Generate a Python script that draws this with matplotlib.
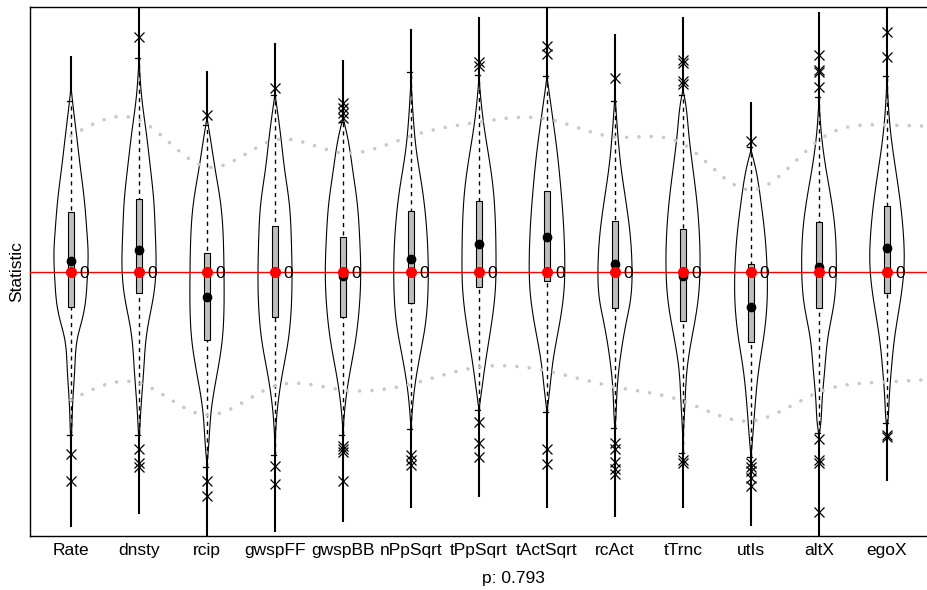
"""
Violin GOF plot: simulated auxiliary statistics vs. observed (red), p: 0.793.
"""
import numpy as np
import matplotlib
matplotlib.use("Agg")
import matplotlib.pyplot as plt
from matplotlib.patches import Rectangle, Polygon

plt.rcParams["font.family"] = ["Liberation Sans", "DejaVu Sans"]

# ─────────────────────────────────────────────────────────
#  Data (arbitrary statistic units)
# ─────────────────────────────────────────────────────────
stat_names = ["Rate", "dnsty", "rcip", "gwspFF", "gwspBB", "nPpSqrt", "tPpSqrt",
              "tActSqrt", "rcAct", "tTrnc", "utIs", "altX", "egoX"]
observed = [0.0] * 13
observed_labels = ["0"] * 13

sim_max   = [2.16, 2.66, 2.01, 2.29, 2.12, 2.43, 2.55, 2.66, 2.38, 2.55, 1.70, 2.60, 2.66]
sim_hi    = [1.71, 2.14, 1.47, 1.77, 1.50, 2.00, 1.97, 1.96, 1.71, 1.77, 1.25, 1.75, 1.96]
sim_q3    = [0.60, 0.73, 0.19, 0.46, 0.35, 0.61, 0.71, 0.81, 0.51, 0.43, 0.08, 0.50, 0.66]
sim_mean  = [0.11, 0.22, -0.25, 0.00, -0.04, 0.13, 0.28, 0.35, 0.08, -0.04, -0.35, 0.05, 0.24]
sim_q1    = [-0.35, -0.21, -0.68, -0.45, -0.45, -0.31, -0.15, -0.09, -0.36, -0.49, -0.70, -0.36, -0.21]
sim_lo    = [-1.63, -1.63, -1.95, -1.83, -1.63, -1.57, -1.38, -1.40, -1.56, -1.81, -1.85, -1.61, -1.51]
sim_min   = [-2.55, -2.42, -2.66, -2.60, -2.50, -2.36, -2.25, -2.36, -2.45, -2.36, -2.54, -2.66, -2.09]

outliers_hi = [
    [], [2.35], [1.57], [1.84], [1.69, 1.64, 1.59, 1.54], [], [2.10, 2.06],
    [2.26, 2.18], [1.94], [2.12, 2.09, 1.91, 1.88], [1.31], [2.17, 2.02, 2.00, 1.85],
    [2.40, 2.15],
]
outliers_lo = [
    [-1.82, -2.09], [-1.77, -1.91, -1.95], [-2.09, -2.24], [-1.94, -2.12],
    [-1.74, -1.77, -1.80, -2.09], [-1.83, -1.88, -1.93], [-1.50, -1.71, -1.85],
    [-1.77, -1.92], [-1.71, -1.77, -1.90, -1.97, -2.02], [-1.88, -1.91],
    [-1.91, -1.95, -1.99, -2.06, -2.14], [-1.67, -1.88, -1.91, -2.40], [-1.63, -1.65],
]

# violin density profiles: (statistic level, relative density)
violin_levels = [
    [1.85, 1.71, 1.39, 1.05, 0.72, 0.39, 0.22, -0.11, -0.31, -0.48, -0.65, -0.98, -1.31, -1.58, -1.73],
    [2.12, 1.72, 1.39, 1.05, 0.72, 0.39, 0.05, -0.15, -0.31, -0.48, -0.65, -0.98, -1.31, -1.58, -1.73],
    [1.54, 1.36, 1.02, 0.68, 0.33, -0.01, -0.35, -0.70, -1.04, -1.38, -1.73, -1.93],
    [1.78, 1.36, 1.02, 0.68, 0.33, -0.01, -0.35, -0.70, -1.04, -1.38, -1.69, -1.83],
    [1.54, 1.36, 1.02, 0.68, 0.33, -0.01, -0.35, -0.70, -1.04, -1.38, -1.60],
    [1.92, 1.54, 1.19, 0.85, 0.51, 0.16, -0.18, -0.53, -0.87, -1.21, -1.56],
    [1.94, 1.51, 1.16, 0.82, 0.51, 0.16, -0.18, -0.53, -0.87, -1.21, -1.38],
    [1.95, 1.54, 1.19, 0.85, 0.51, 0.16, -0.18, -0.53, -0.87, -1.21, -1.40],
    [1.77, 1.39, 1.05, 0.72, 0.39, 0.05, -0.15, -0.31, -0.48, -0.81, -1.15, -1.48, -1.58],
    [1.82, 1.72, 1.39, 1.05, 0.72, 0.39, 0.05, -0.31, -0.65, -0.98, -1.31, -1.65, -1.78],
    [1.22, 1.05, 0.72, 0.39, 0.05, -0.31, -0.65, -0.98, -1.31, -1.65, -1.85],
    [1.72, 1.39, 1.05, 0.72, 0.39, 0.05, -0.31, -0.65, -0.98, -1.31, -1.55, -1.63],
    [1.92, 1.39, 1.05, 0.72, 0.39, 0.05, -0.31, -0.65, -0.98, -1.31, -1.48, -1.56],
]
violin_density = [
    [0, 1.5, 5.3, 9.3, 13.3, 16, 17, 16, 14.3, 11, 6.7, 3.7, 1.7, 0.7, 0],
    [0, 3, 7.3, 11.3, 14.7, 16.3, 17, 15.7, 13.3, 10, 7.3, 4.7, 2.3, 0.7, 0],
    [0, 3, 8.3, 13.7, 16.3, 17, 17, 15, 9.7, 4.3, 1.7, 0],
    [0, 5.7, 9.7, 14.3, 16.3, 17, 16.3, 13, 7, 2.3, 0.3, 0],
    [0, 4.3, 9.7, 14.3, 16.7, 17.7, 16.3, 12.3, 6.3, 1.7, 0],
    [0, 2.3, 5.7, 11, 15, 17, 17, 14.3, 8.3, 3, 0],
    [0, 4.3, 9.7, 14.3, 16.3, 17, 16.3, 12.3, 7, 2.3, 0],
    [0, 5.7, 10.3, 13.7, 16.3, 17.7, 17, 12.3, 6.3, 2.3, 0],
    [0, 2.7, 6, 10.7, 15, 17, 16.7, 15, 11.7, 6, 2.3, 0.7, 0],
    [0, 2, 5.7, 9.7, 13.7, 16.3, 17, 14.7, 9, 4, 2, 0.3, 0],
    [0, 4.3, 9.7, 13.7, 16, 16, 12.7, 7.7, 4.3, 1.7, 0],
    [0, 2.3, 6.7, 12.3, 16.3, 17.3, 15, 9, 5.7, 3, 1.3, 0],
    [0, 3.7, 8.3, 13, 16.3, 17, 13, 7.7, 4.3, 2, 1, 0],
]

# 5% / 95% bands (last point belongs to the statistic cut off at the right)
band_upper = [1.36, 1.52, 1.05, 1.32, 1.19, 1.36, 1.50, 1.53, 1.35, 1.28, 0.82, 1.32, 1.47, 1.45]
band_lower = [-1.28, -1.11, -1.43, -1.14, -1.18, -1.12, -0.95, -0.99, -1.15, -1.29, -1.49, -1.20, -1.10, -1.05]

P_VALUE = 0.793

# ─────────────────────────────────────────────────────────
#  Style knobs
# ─────────────────────────────────────────────────────────
DENS_SCALE = 1 / 68.0      # density -> x units
BOX_HALF = 0.05
FS = 12.5


def natural_spline(x, y, xs):
    x = np.asarray(x, float)
    y = np.asarray(y, float)
    n = len(x)
    h = np.diff(x)
    A = np.zeros((n, n))
    r = np.zeros(n)
    A[0, 0] = A[-1, -1] = 1.0
    for i in range(1, n - 1):
        A[i, i - 1] = h[i - 1]
        A[i, i] = 2 * (h[i - 1] + h[i])
        A[i, i + 1] = h[i]
        r[i] = 3 * ((y[i + 1] - y[i]) / h[i] - (y[i] - y[i - 1]) / h[i - 1])
    c = np.linalg.solve(A, r)
    b = (y[1:] - y[:-1]) / h - h * (2 * c[:-1] + c[1:]) / 3
    d = (c[1:] - c[:-1]) / (3 * h)
    idx = np.clip(np.searchsorted(x, xs) - 1, 0, n - 2)
    dx = xs - x[idx]
    return y[idx] + b[idx] * dx + c[idx] * dx ** 2 + d[idx] * dx ** 3


fig = plt.figure(figsize=(9.28, 5.90), dpi=100)
ax = fig.add_axes([30 / 928, 54 / 590, 966 / 928, 529 / 590])
ax.patch.set_visible(False)
ax.set_xlim(0.397, 14.603)
ax.set_ylim(-2.64, 2.65)

positions = np.arange(1, len(stat_names) + 1)

for i, pos in enumerate(positions):
    # full range
    ax.plot([pos, pos], [sim_min[i], sim_max[i]], color="black", lw=1.5,
            solid_capstyle="butt", zorder=1)
    # violin
    lv = np.asarray(violin_levels[i])[::-1]
    dn = np.asarray(violin_density[i], float)[::-1]
    yy = np.linspace(lv[0], lv[-1], 200)
    ww = np.clip(natural_spline(lv, dn, yy), 0, None) * DENS_SCALE
    verts = np.concatenate([np.column_stack([pos + ww, yy]),
                            np.column_stack([pos - ww[::-1], yy[::-1]])])
    ax.add_patch(Polygon(verts, closed=True, facecolor="white",
                         edgecolor="black", lw=0.8, zorder=2))
    # inner whisker
    ax.plot([pos, pos], [sim_lo[i], sim_hi[i]], color="black", lw=1.0,
            ls=(0, (3, 3)), zorder=3)
    for yv in (sim_lo[i], sim_hi[i]):
        ax.plot([pos - 0.06, pos + 0.01], [yv, yv], color="black", lw=0.9, zorder=3)
    # IQR box
    ax.add_patch(Rectangle((pos - BOX_HALF, sim_q1[i]), 2 * BOX_HALF,
                           sim_q3[i] - sim_q1[i], facecolor="#bebebe",
                           edgecolor="black", lw=0.8, zorder=4))
    # outliers
    outs = outliers_hi[i] + outliers_lo[i]
    ax.plot([pos] * len(outs), outs, ls="none", marker="x", ms=7,
            mew=0.9, color="black", zorder=5)
    # mean
    ax.plot(pos, sim_mean[i], "o", color="black", ms=6, zorder=6)

# percentile bands
band_x = np.arange(1, len(band_upper) + 1)
xs = np.linspace(band_x[0], band_x[-1], 600)
for band in (band_upper, band_lower):
    ax.plot(xs, natural_spline(band_x, band, xs), color="#c8c8c8", lw=2.6,
            ls=(0, (0.01, 3.4)), dash_capstyle="round", zorder=7)

# observed
ax.axhline(0.0, color="red", lw=1.0, zorder=8)
ax.plot(positions, observed, "o", color="red", ms=7, zorder=9)
for pos, obs, lab in zip(positions, observed, observed_labels):
    ax.text(pos + 0.13, obs, lab, fontsize=FS, ha="left", va="center_baseline", zorder=10)

ax.set_xticks(positions)
ax.set_xticklabels(stat_names, fontsize=FS)
ax.set_yticks([])
ax.tick_params(axis="x", length=0, pad=5)
for side in ("left", "top", "bottom"):
    ax.spines[side].set_linewidth(1.0)
ax.spines["right"].set_visible(False)

fig.text(513 / 928, 1 - 578 / 590, f"p: {P_VALUE:.3f}", fontsize=FS, ha="center", va="center")
fig.text(17 / 928, 1 - 272 / 590, "Statistic", fontsize=FS, rotation=90,
         ha="center", va="center")

fig.savefig("out.png", dpi=100)
